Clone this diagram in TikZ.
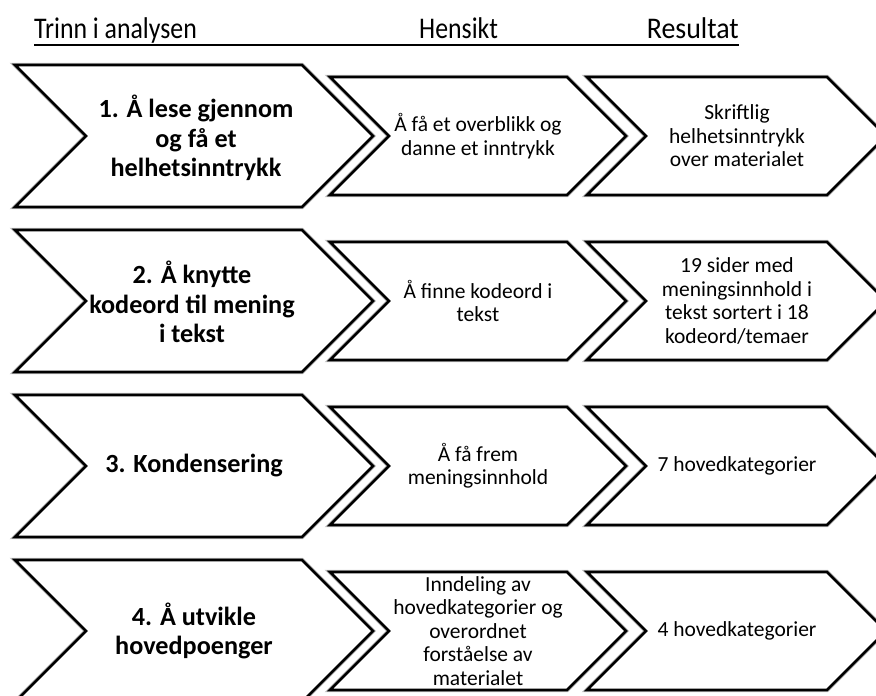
\documentclass[tikz,border=0pt]{standalone}
\usepackage{fontspec}
\setmainfont{Carlito}
\usetikzlibrary{positioning}

% one chevron: left x, corner x, mid y, half height
\newcommand{\chev}[4]{%
  \draw[halo] (#1,#3-#4) -- (#2,#3-#4) -- (#2+#4,#3) -- (#2,#3+#4) -- (#1,#3+#4) -- (#1+#4,#3) -- cycle;
  \draw[chevshape] (#1,#3-#4) -- (#2,#3-#4) -- (#2+#4,#3) -- (#2,#3+#4) -- (#1,#3+#4) -- (#1+#4,#3) -- cycle;
}
\newcommand{\headword}[1]{\scalebox{0.86}[1]{#1}}

\tikzset{
  halo/.style={draw=black!25, line width=4.4pt, line join=miter},
  chevshape/.style={draw=black, fill=white, line width=2.6pt, line join=miter},
  steptext/.style={font=\fontsize{26.2}{29.5}\selectfont\bfseries, align=center},
  bodytext/.style={font=\fontsize{21.5}{23.4}\selectfont, align=center},
  headtext/.style={font=\fontsize{30}{34}\selectfont, inner sep=0pt},
}

\begin{document}
\begin{tikzpicture}[x=1pt, y=-1pt]
    \useasboundingbox (0,0) rectangle (876,696);
    \clip (0,0) rectangle (876,696);

    % Column headings
    \node[headtext, anchor=base west] (head1) at (34,38) {\headword{Trinn i analysen}};
    \node[headtext, anchor=base west] (head2) at (419,38) {\headword{Hensikt}};
    \node[headtext, anchor=base east] (head3) at (739,38) {\scalebox{0.93}[1]{Resultat}};
    \draw[line width=2.6pt] ([yshift=-7pt]head1.base west) -- ([yshift=-7pt]head3.base east);

    % Chevrons, one row per step
    \foreach \row in {0,1,2,3} {
        \pgfmathsetmacro{\ym}{136+165*\row}
        \chev{15}{302}{\ym}{71}
        \chev{330}{567}{\ym}{59}
        \chev{587}{827}{\ym}{59}
    }

    % Step 1
    \node[steptext] (step1) at (196,138) {1. Å lese gjennom\\og få et\\helhetsinntrykk};
    \node[bodytext] (aim1) at (478,136) {Å få et overblikk og\\danne et inntrykk};
    \node[bodytext] (res1) at (737,136) {Skriftlig\\helhetsinntrykk\\over materialet};

    % Step 2
    \node[steptext] (step2) at (192,302) {2. Å knytte\\kodeord til mening\\i tekst};
    \node[bodytext] (aim2) at (478,301) {Å finne kodeord i\\tekst};
    \node[bodytext] (res2) at (737,301) {19 sider med\\meningsinnhold i\\tekst sortert i 18\\kodeord/temaer};

    % Step 3
    \node[steptext] (step3) at (194,466) {3. Kondensering};
    \node[bodytext] (aim3) at (478,466) {Å få frem\\meningsinnhold};
    \node[bodytext] (res3) at (737,466) {7 hovedkategorier};

    % Step 4
    \node[steptext] (step4) at (194,631) {4. Å utvikle\\hovedpoenger};
    \node[bodytext] (aim4) at (478,631) {Inndeling av\\hovedkategorier og\\overordnet\\forståelse av\\materialet};
    \node[bodytext] (res4) at (737,631) {4 hovedkategorier};
\end{tikzpicture}
\end{document}
